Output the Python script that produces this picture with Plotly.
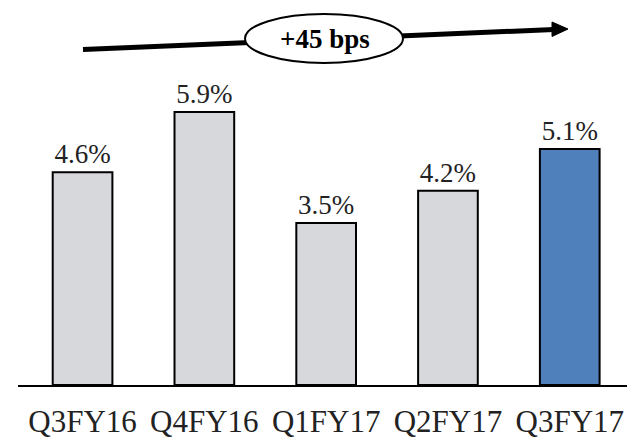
import plotly.graph_objects as go

categories = ["Q3FY16", "Q4FY16", "Q1FY17", "Q2FY17", "Q3FY17"]
values = [4.6, 5.9, 3.5, 4.2, 5.1]
labels = ["4.6%", "5.9%", "3.5%", "4.2%", "5.1%"]
colors = ["#d7d8dc", "#d7d8dc", "#d7d8dc", "#d7d8dc", "#4f80bc"]
badge_text = "+45 bps"

FONT = "Liberation Serif, Times New Roman, serif"

W, H = 637, 442
ML, MR, MT, MB = 18, 10, 0, 57
PW, PH = W - ML - MR, H - MT - MB


def px(x):
    return (x - ML) / PW


def py(y):
    return (H - MB - y) / PH


fig = go.Figure(
    go.Bar(
        x=categories,
        y=values,
        text=labels,
        textposition="outside",
        constraintext="none",
        textfont=dict(family=FONT, size=27, color="#222222"),
        marker=dict(color=colors, line=dict(color="black", width=2)),
        width=0.49,
        cliponaxis=False,
        hoverinfo="skip",
    )
)

shapes = [
    dict(type="line", xref="paper", yref="paper",
         x0=px(83), y0=py(49.5), x1=px(554), y1=py(29.5),
         line=dict(color="black", width=5)),
    dict(type="path", xref="paper", yref="paper",
         path=f"M {px(568)} {py(29)} L {px(552)} {py(22)} L {px(552)} {py(36.5)} Z",
         fillcolor="black", line=dict(color="black", width=1)),
    dict(type="circle", xref="paper", yref="paper",
         x0=px(245), x1=px(403), y0=py(63), y1=py(14),
         fillcolor="white", line=dict(color="black", width=2)),
]

fig.update_layout(
    width=W, height=H,
    margin=dict(l=ML, r=MR, t=MT, b=MB, autoexpand=False),
    paper_bgcolor="white", plot_bgcolor="white",
    showlegend=False,
    shapes=shapes,
    annotations=[dict(xref="paper", yref="paper", x=px(325), y=py(39),
                      xanchor="center", yanchor="middle",
                      text=f"<b>{badge_text}</b>", showarrow=False,
                      font=dict(family=FONT, size=27, color="black"))],
    xaxis=dict(showline=True, linecolor="black", linewidth=2,
               range=[-0.53, 4.47],
               ticks="outside", ticklen=8, tickcolor="rgba(0,0,0,0)",
               tickfont=dict(family=FONT, size=31, color="#222222"),
               showgrid=False, fixedrange=True, automargin=False),
    yaxis=dict(range=[0, 8.32], visible=False, showgrid=False,
               fixedrange=True, automargin=False),
)

fig.write_html("out.html",
               config={"displayModeBar": False, "staticPlot": True},
               post_script="document.body.style.margin='0px';document.body.style.padding='0px';")
